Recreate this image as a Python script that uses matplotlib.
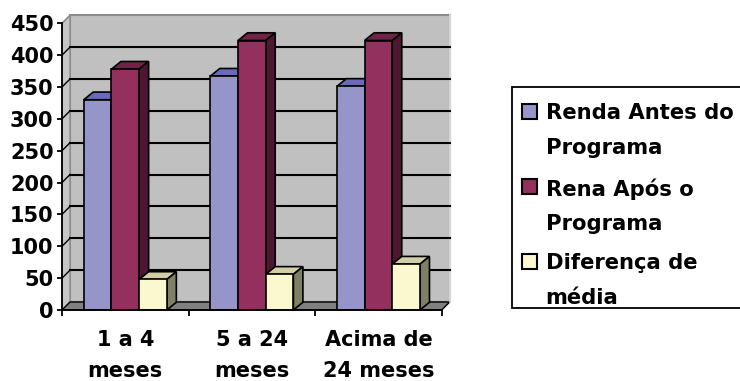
import matplotlib
matplotlib.use("Agg")
import matplotlib.pyplot as plt
import numpy as np
from matplotlib.patches import Polygon, Rectangle

categories = ["1 a 4\nmeses", "5 a 24\nmeses", "Acima de\n24 meses"]
series_names = ["Renda Antes do\nPrograma", "Rena Após o\nPrograma", "Diferença de\nmédia"]
renda_antes = [330, 367, 351]
renda_apos = [378, 423, 423]
diferenca = [48, 56, 72]
yticks = np.arange(0, 451, 50)

series = [renda_antes, renda_apos, diferenca]
front_colors = ["#9595c9", "#93305e", "#fbf8d0"]
top_colors = ["#6a6ab8", "#6e2347", "#d2cfa6"]
side_colors = ["#5d5d9e", "#4d1733", "#7f7f66"]

plt.rcParams["font.family"] = "DejaVu Sans"
plt.rcParams["font.weight"] = "bold"

W, H = 740, 381
fig = plt.figure(figsize=(W / 100, H / 100), dpi=100)

# front plane of the 3d box, in pixels
x0, x1, ytop, ybot = 62, 441.7, 23.3, 310
ax = fig.add_axes([x0 / W, 1 - ybot / H, (x1 - x0) / W, (ybot - ytop) / H])
ncat = len(categories)
ymax = yticks[-1]
ax.set_xlim(0, ncat)
ax.set_ylim(0, ymax)
ax.patch.set_visible(False)

px_x = (x1 - x0) / ncat
px_y = (ybot - ytop) / ymax
# depth of the box and of the columns, in data units
ddx, ddy = 8 / px_x, 8 / px_y
bdx, bdy = 9.5 / px_x, 7.7 / px_y


def poly(pts, fc, ec, lw, z):
    ax.add_patch(Polygon(pts, closed=True, facecolor=fc, edgecolor=ec,
                         linewidth=lw, zorder=z, clip_on=False, joinstyle="miter"))


# back wall, side wall and floor
poly([(ddx, ddy), (ncat + ddx, ddy), (ncat + ddx, ymax + ddy), (ddx, ymax + ddy)],
     "#c0c0c0", "#8c8c8c", 1.5, 0.5)
poly([(0, 0), (ddx, ddy), (ddx, ymax + ddy), (0, ymax)], "#c6c6c6", "#8c8c8c", 1.0, 0.6)
poly([(0, 0), (ncat, 0), (ncat + ddx, ddy), (ddx, ddy)], "#808080", "#000000", 1.0, 0.7)
ax.plot([ncat + ddx, ncat + ddx], [ddy, ymax + ddy], color="#e4e4e4", lw=1.2,
        zorder=0.8, clip_on=False)

# gridlines on the walls
for v in yticks[1:]:
    c = "#000000" if v < ymax else "#8c8c8c"
    if v < ymax:
        ax.plot([ddx, ncat + ddx], [v + ddy, v + ddy], color=c, lw=1.5,
                zorder=0.9, clip_on=False)
    ax.plot([0, ddx], [v, v + ddy], color=c, lw=1.0, zorder=0.9, clip_on=False)

# 3d columns
w = 27.7 / px_x
centers = np.arange(ncat) + 0.5
for j, vals in enumerate(series):
    lefts = centers - 1.5 * w + j * w
    z = 3 + j * 0.1
    ax.bar(lefts, vals, width=w, align="edge", color=front_colors[j],
           edgecolor="black", linewidth=1.2, zorder=z + 0.02)
    for l, v in zip(lefts, vals):
        poly([(l, v), (l + w, v), (l + w + bdx, v + bdy), (l + bdx, v + bdy)],
             top_colors[j], "black", 1.2, z)
        poly([(l + w, 0), (l + w + bdx, bdy), (l + w + bdx, v + bdy), (l + w, v)],
             side_colors[j], "black", 1.2, z)

# axes
for s in ("top", "right"):
    ax.spines[s].set_visible(False)
for s in ("left", "bottom"):
    ax.spines[s].set_color("black")
    ax.spines[s].set_linewidth(1.3)
    ax.spines[s].set_zorder(5)

ax.set_yticks(yticks)
ax.tick_params(axis="y", direction="out", length=3.6, width=1.3, pad=2.5,
               labelsize=15)
ax.set_xticks(np.arange(ncat + 1))
ax.set_xticklabels([])
ax.set_xticks(centers, minor=True)
ax.set_xticklabels(categories, minor=True, linespacing=1.7)
ax.tick_params(axis="x", which="major", direction="out", length=4.5, width=1.3)
ax.tick_params(axis="x", which="minor", length=0, pad=14.5, labelsize=15)


# legend box, drawn in figure pixels
def fx(p):
    return p / W


def fy(p):
    return 1 - p / H


fig.add_artist(Rectangle((fx(511.7), fy(308.3)), fx(750) - fx(511.7),
                         fy(87.3) - fy(308.3), transform=fig.transFigure,
                         facecolor="white", edgecolor="black", linewidth=1.3))
item_y = [111.5, 186.5, 261.5]
for name, c, yc in zip(series_names, front_colors, item_y):
    fig.add_artist(Rectangle((fx(521.5), fy(yc + 7.5)), fx(15), 15 / H,
                             transform=fig.transFigure, facecolor=c,
                             edgecolor="black", linewidth=1.5))
    fig.text(fx(545.5), fy(yc - 8.2), name, fontsize=15.2, fontweight="bold",
             ha="left", va="top", linespacing=1.9)

fig.savefig("out.png", dpi=100)
